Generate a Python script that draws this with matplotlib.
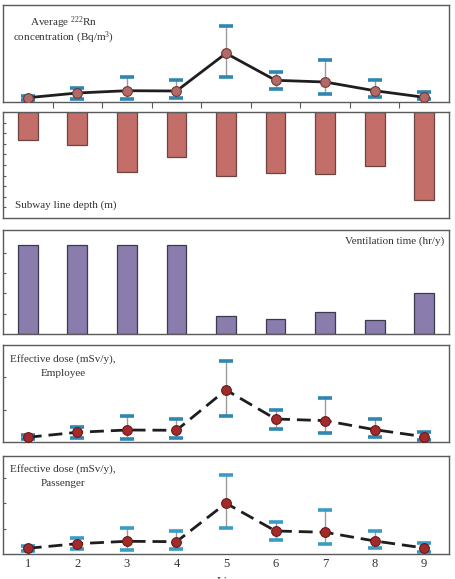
import matplotlib.pyplot as plt
import numpy as np

plt.rcParams["font.family"] = ["Liberation Serif", "DejaVu Serif"]
plt.rcParams["mathtext.fontset"] = "custom"
plt.rcParams["mathtext.rm"] = "Liberation Serif"
plt.rcParams["mathtext.it"] = "Liberation Serif:italic"
plt.rcParams["mathtext.default"] = "rm"

lines = [1, 2, 3, 4, 5, 6, 7, 8, 9]

# Average 222Rn concentration (Bq/m3): mean, lower and upper bounds
rn_mean = [4.3, 9.0, 11.3, 11.0, 48.7, 21.7, 20.0, 11.3, 4.7]
rn_low = [2.5, 3.3, 2.7, 4.0, 24.7, 12.7, 8.3, 4.7, 2.7]
rn_high = [6.0, 14.0, 24.7, 21.7, 76.3, 30.0, 41.7, 21.7, 9.7]

# Subway line depth (m)
depth = [13.0, 15.4, 28.4, 21.1, 30.1, 29.0, 29.4, 25.4, 41.6]

# Ventilation time (hr/y)
vent = [8760, 8760, 8760, 8760, 1780, 1500, 2130, 1370, 4070]

# Effective dose (mSv/y), employee
emp_mean = [0.154, 0.308, 0.378, 0.369, 1.609, 0.717, 0.665, 0.388, 0.172]
emp_low = [0.102, 0.132, 0.102, 0.142, 0.809, 0.418, 0.286, 0.154, 0.080]
emp_high = [0.215, 0.480, 0.818, 0.717, 2.490, 0.994, 1.372, 0.717, 0.326]

# Effective dose (mSv/y), passenger
pas_mean = [0.225, 0.407, 0.502, 0.486, 2.004, 0.909, 0.858, 0.514, 0.237]
pas_low = [0.130, 0.186, 0.146, 0.209, 1.040, 0.542, 0.383, 0.225, 0.091]
pas_high = [0.316, 0.620, 1.040, 0.921, 3.110, 1.265, 1.727, 0.909, 0.435]

SPINE = "#5a5a5a"
CAP = "#2f86b0"
TXT = "#333333"

fig = plt.figure(figsize=(4.56, 5.79), dpi=100)
W, H = 456, 579


def add_panel(top, bottom):
    return fig.add_axes([3 / W, (H - bottom) / H, 446 / W, (bottom - top) / H])


def style(ax):
    ax.set_xlim(0.5, 9.5)
    for s in ax.spines.values():
        s.set_color(SPINE)
        s.set_linewidth(1.0)
    ax.tick_params(axis="y", direction="in", length=2.5, width=0.8,
                   color=SPINE, labelleft=False)
    ax.tick_params(axis="x", length=0, labelbottom=False)


def err_line(ax, mean, low, high, mcolor, medge, ls, capcolor):
    mean = np.array(mean)
    yerr = [mean - np.array(low), np.array(high) - mean]
    _, caps, _ = ax.errorbar(lines, mean, yerr=yerr, fmt="none",
                             ecolor="#9a9a9a", elinewidth=1.0,
                             capsize=5, capthick=2.6, zorder=2)
    for c in caps:
        c.set_markeredgecolor(capcolor)
        c.set_color(capcolor)
    ax.plot(lines, mean, color="#1e1e1e", lw=2.0, ls=ls,
            dashes=(5, 2.5) if ls == "--" else (None, None), zorder=3)
    ax.plot(lines, mean, "o", ms=7, mfc=mcolor, mec=medge, mew=0.8, zorder=4)


def label(ax, x, y, s, ha="center"):
    ax.text(x, y, s, transform=ax.transAxes, ha=ha, va="center",
            fontsize=8, color=TXT)


# Panel 1: radon concentration
ax1 = add_panel(5, 102)
style(ax1)
err_line(ax1, rn_mean, rn_low, rn_high, "#b36a66", "#6e3a38", "-", CAP)
ax1.set_ylim(0, 97)
ax1.set_yticks([])
ax1.set_xticks(np.arange(1.5, 9, 1))
ax1.tick_params(axis="x", direction="out", length=4, width=0.8, color=SPINE)
label(ax1, 0.135, 0.82, "Average $^{222}$Rn")
label(ax1, 0.135, 0.66, "concentration (Bq/m$^{3}$)")

# Panel 2: depth
ax2 = add_panel(112, 218)
style(ax2)
ax2.bar(lines, depth, width=0.4, bottom=0, color="#c36e68",
        edgecolor="#6e4442", linewidth=0.9)
ax2.set_ylim(50, 0)
ax2.set_yticks(np.arange(5, 50, 5))
label(ax2, 0.027, 0.12, "Subway line depth (m)", ha="left")

# Panel 3: ventilation time
ax3 = add_panel(229.7, 333.7)
style(ax3)
ax3.bar(lines, vent, width=0.4, color="#8a7cad", edgecolor="#3c3a4c",
        linewidth=0.9)
ax3.set_ylim(0, 10300)
ax3.set_yticks([2000, 4000, 6000, 8000])
label(ax3, 0.99, 0.885, "Ventilation time (hr/y)", ha="right")

# Panel 4: employee dose
ax4 = add_panel(344.7, 442.3)
style(ax4)
err_line(ax4, emp_mean, emp_low, emp_high, "#a32a2a", "#6a1a1a", "--", CAP)
ax4.set_ylim(0, 3.0)
ax4.set_yticks([1, 2])
label(ax4, 0.135, 0.85, "Effective dose (mSv/y),")
label(ax4, 0.135, 0.70, "Employee")

# Panel 5: passenger dose
ax5 = add_panel(455.5, 554)
style(ax5)
err_line(ax5, pas_mean, pas_low, pas_high, "#a32a2a", "#6a1a1a", "--", "#3a9cc6")
ax5.set_ylim(0, 3.89)
ax5.set_yticks([1, 2, 3])
ax5.set_xticks(lines)
ax5.tick_params(axis="x", labelbottom=True, labelsize=9, pad=3,
                labelcolor=TXT)
label(ax5, 0.135, 0.86, "Effective dose (mSv/y),")
label(ax5, 0.135, 0.72, "Passenger")

fig.text(0.5, 3 / H, "Line", ha="center", va="top", fontsize=9, color=TXT)

fig.savefig("out.png", dpi=100)
